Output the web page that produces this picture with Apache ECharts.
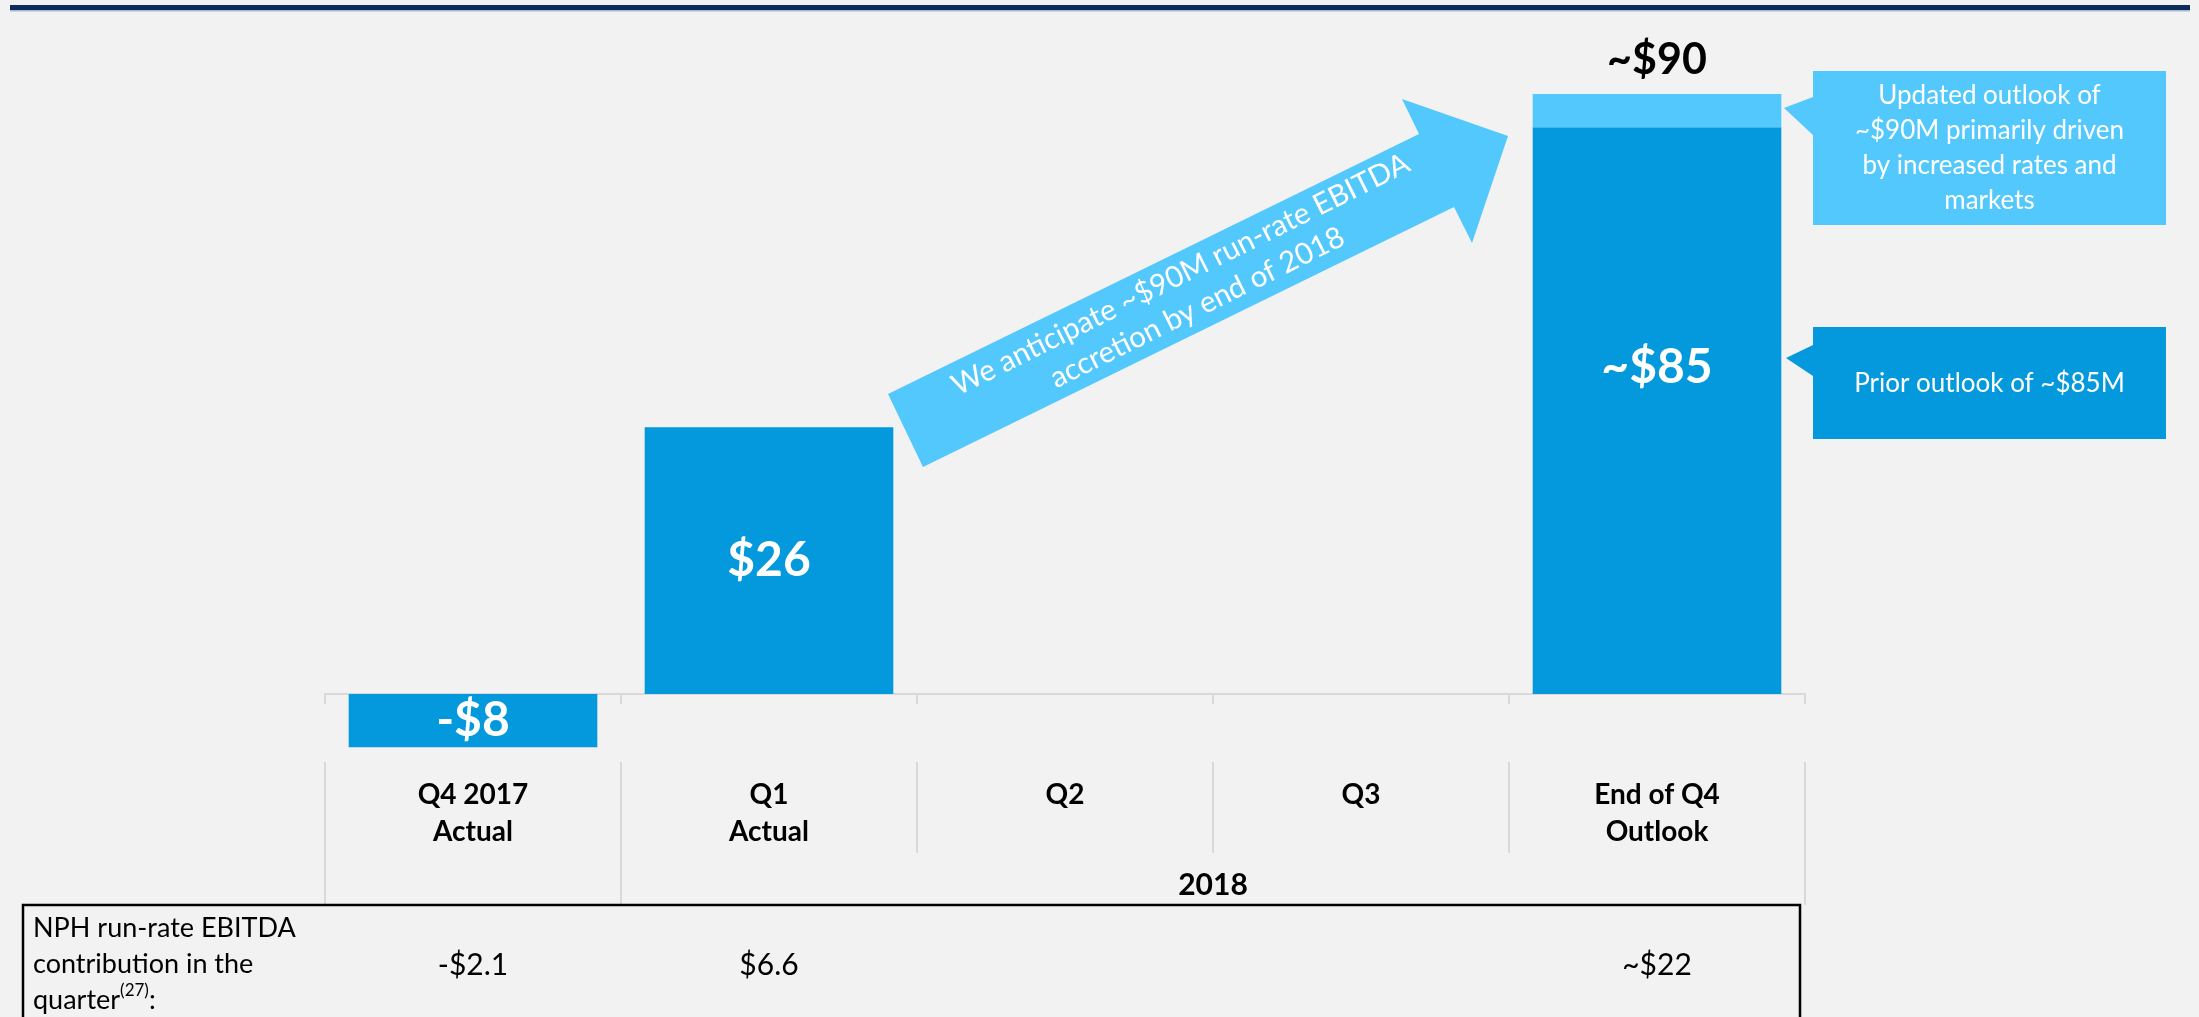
<!DOCTYPE html>
<html>
<head>
<meta charset="utf-8">
<script src="https://cdn.jsdelivr.net/npm/echarts@6/dist/echarts.min.js"></script>
<style>
html,body{margin:0;padding:0;background:#f2f2f2;}
#c{width:2199px;height:1017px;}
</style>
</head>
<body>
<div id="c"></div>
<script>
// ---- data ----
const categories = ['Q4 2017\nActual', 'Q1\nActual', 'Q2', 'Q3', 'End of Q4\nOutlook'];
// bar heights as drawn on the slide (Q1 is drawn taller than its $26 label)
const baseValues = [-8, 40, null, null, 85];
const increaseValues = [null, null, null, null, 5];
const barLabels = ['-$8', '$26', '', '', '~$85'];
const totalLabels = ['', '', '', '', '~$90'];
const contribution = ['-$2.1', '$6.6', '', '', '~$22'];
const groupLabel = '2018';
const tableHeader = 'NPH run-rate EBITDA\ncontribution in the\nquarter{sup|(27)}:';
const arrowText = 'We anticipate ~$90M run-rate EBITDA\naccretion by end of 2018';
const updatedText = 'Updated outlook of\n~$90M primarily driven\nby increased rates and\nmarkets';
const priorText = 'Prior outlook of ~$85M';

const DARK = '#0399dc';
const LIGHT = '#53c8fd';
const FONT = 'Lato';

const chart = echarts.init(document.getElementById('c'), null, {renderer: 'canvas'});

const option = {
  backgroundColor: '#f2f2f2',
  animation: false,
  grid: {left: 325, right: 394, top: 27.33, bottom: 263, containLabel: false},
  xAxis: {
    type: 'category',
    data: categories,
    axisLine: {onZero: true, lineStyle: {color: '#d9d9d9', width: 2}},
    axisTick: {show: true, length: 10, lineStyle: {color: '#d9d9d9', width: 2}},
    axisLabel: {
      fontFamily: FONT, fontWeight: 'bold', fontSize: 28, color: '#000',
      lineHeight: 37, margin: 22.5, interval: 0
    },
    splitLine: {show: false}
  },
  yAxis: {
    type: 'value', min: -9, max: 100,
    show: false, splitLine: {show: false}
  },
  series: [
    {
      type: 'bar', stack: 'total', barWidth: '84%',
      itemStyle: {color: DARK},
      data: baseValues.map((v, i) => i === 4
        ? {value: v, label: {position: ['50%', '42.4%'], align: 'center', verticalAlign: 'middle'}}
        : v),
      label: {
        show: true, position: 'inside', color: '#fff',
        fontFamily: FONT, fontWeight: 'bold', fontSize: 48,
        formatter: p => barLabels[p.dataIndex]
      }
    },
    {
      type: 'bar', stack: 'total', barWidth: '84%',
      itemStyle: {color: LIGHT},
      data: increaseValues,
      label: {
        show: true, position: 'top', distance: 12, color: '#000',
        fontFamily: FONT, fontWeight: 'bold', fontSize: 43,
        formatter: p => totalLabels[p.dataIndex]
      }
    }
  ]
};
chart.setOption(option);

// ---- annotations derived from axis positions ----
const cx = i => chart.convertToPixel({xAxisIndex: 0}, i);
const half = (cx(1) - cx(0)) / 2;
const bounds = [0, 1, 2, 3, 4, 5].map(i => cx(0) - half + i * 2 * half);
const longSep = [0, 1, 5];
const g = [];

// top navy band
g.push({type: 'rect', shape: {x: 10, y: 5, width: 2180, height: 5}, style: {fill: '#0c2c5e'}, z: 10});
g.push({type: 'rect', shape: {x: 10, y: 10, width: 2180, height: 1.5}, style: {fill: '#a9b8cf'}, z: 10});

// category separators
bounds.forEach((x, i) => {
  g.push({type: 'line', shape: {x1: x, y1: 762, x2: x, y2: longSep.includes(i) ? 905 : 853},
    style: {stroke: '#d9d9d9', lineWidth: 2}, z: 5});
});
// 2018 group label
g.push({type: 'text', x: (bounds[1] + bounds[5]) / 2, y: 885, z: 10,
  style: {text: groupLabel, fontFamily: FONT, fontWeight: 'bold', fontSize: 30, fill: '#000',
    align: 'center', verticalAlign: 'middle'}});

// table box
g.push({type: 'rect', shape: {x: 23, y: 905, width: 1777, height: 150},
  style: {fill: 'none', stroke: '#000', lineWidth: 2.5}, z: 10});
g.push({type: 'text', x: 33, y: 910, z: 10,
  style: {text: tableHeader, fontFamily: FONT, fontSize: 27, fill: '#000', lineHeight: 36,
    align: 'left', verticalAlign: 'top',
    rich: {sup: {fontFamily: FONT, fontSize: 17, fill: '#000', verticalAlign: 'top', lineHeight: 36, padding: [0, 0, 14, 0]}}}});
contribution.forEach((t, i) => {
  if (!t) return;
  g.push({type: 'text', x: cx(i), y: 965, z: 10,
    style: {text: t, fontFamily: FONT, fontSize: 30, fill: '#000', align: 'center', verticalAlign: 'middle'}});
});

// arrow
g.push({type: 'polygon', z: 8,
  shape: {points: [[888, 394], [1419, 134], [1402, 99], [1508, 136], [1472, 243], [1454, 207], [923, 467]]},
  style: {fill: LIGHT}});
g.push({type: 'text', x: 1189, y: 291, rotation: 26.5 * Math.PI / 180, z: 9,
  style: {text: arrowText, fontFamily: FONT, fontSize: 29.5, fill: '#fff', lineHeight: 37,
    align: 'center', verticalAlign: 'middle'}});

// callouts
g.push({type: 'polygon', z: 8,
  shape: {points: [[1813, 71], [2166, 71], [2166, 225], [1813, 225], [1813, 135], [1784, 108], [1813, 97]]},
  style: {fill: LIGHT}});
g.push({type: 'text', x: 1989.5, y: 148, z: 9,
  style: {text: updatedText, fontFamily: FONT, fontSize: 26, fill: '#fff', lineHeight: 35,
    align: 'center', verticalAlign: 'middle'}});
g.push({type: 'polygon', z: 8,
  shape: {points: [[1813, 327], [2166, 327], [2166, 439], [1813, 439], [1813, 376], [1786, 358], [1813, 345]]},
  style: {fill: DARK}});
g.push({type: 'text', x: 1989.5, y: 384, z: 9,
  style: {text: priorText, fontFamily: FONT, fontSize: 26, fill: '#fff',
    align: 'center', verticalAlign: 'middle'}});

chart.setOption({graphic: {elements: g}});
</script>
</body>
</html>
